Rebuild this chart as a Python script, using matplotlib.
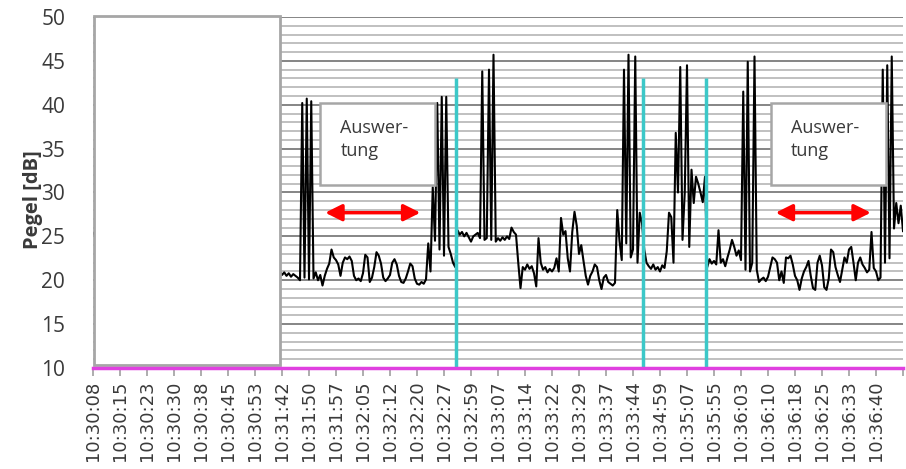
import numpy as np
import matplotlib.pyplot as plt
import matplotlib.ticker as mtick
from matplotlib.patches import Rectangle

# Pegel [dB], ein Wert pro Messpunkt (12 Punkte je Zeitmarke)
# Bereich unter dem weissen Kasten (nicht sichtbar)
pegel_verdeckt = [
    25.4, 25.1, 25.6, 25.3, 24.9, 25.2, 25.5, 25.0, 24.8, 25.3,
    25.1, 24.7, 25.0, 25.4, 25.2, 24.9, 25.3, 25.6, 25.1, 24.8,
    24.6, 25.0, 25.2, 24.9, 24.5, 24.8, 25.1, 24.7, 24.4, 24.9,
    23.8, 22.5, 21.9, 22.4, 21.6, 21.2, 21.8, 22.3, 21.5, 21.0,
    21.4, 22.0, 21.7, 21.1, 20.8, 21.3, 21.9, 21.2, 20.7, 21.0,
    21.5, 20.9, 20.6, 21.2, 21.8, 21.1, 20.5, 20.9, 21.4, 21.0,
    20.7, 21.3, 20.8, 20.4, 21.0, 21.6, 20.9, 20.6, 21.1, 20.8,
    20.5, 21.2, 20.7, 20.4, 20.9, 21.3, 20.8, 20.5, 21.0, 20.6,
    20.9, 20.4, 20.8,
]
pegel_1 = [
    21.0, 20.6, 20.9, 20.5, 20.8, 20.4, 20.7, 20.5, 20.3, 20.0,
    40.2, 20.3, 40.7, 20.1, 40.4, 20.2,
    20.9, 20.0, 20.6, 19.4, 20.5, 21.3, 21.9,
    23.5, 22.6, 22.3, 21.8, 20.5,
    22.0, 22.6, 22.4, 22.7, 22.2,
    20.5, 20.0, 20.2, 19.9, 20.8,
    22.9, 22.6, 19.8, 20.3,
    21.5, 23.2, 22.8, 21.9,
    20.3, 19.9, 20.2, 20.6,
    22.0, 22.4, 21.8,
    20.5, 19.8, 19.7, 20.2,
    21.0, 21.9, 21.6,
    20.2, 19.6, 19.5, 19.8, 19.6, 20.1,
    24.2, 21.0,
    30.6, 24.5, 40.2, 23.5, 40.9, 22.8, 40.9, 23.8, 23.0, 22.0, 21.5,
]
pegel_2 = [
    25.7, 25.2, 25.5, 25.0, 25.4, 24.9, 24.4, 25.0, 25.2, 25.4, 24.8,
    43.8, 24.6, 24.8, 44.0, 24.6, 45.7, 24.4,
    24.8, 24.5, 24.9, 24.6, 25.0, 24.7,
    26.0, 25.5, 25.2,
    22.0, 19.1,
    21.5, 21.2, 21.8, 21.3, 21.6,
    20.8, 19.3, 24.8, 22.0,
    21.2, 21.5, 20.9, 21.3, 21.0, 21.4,
    22.5, 21.0, 27.1, 25.2, 25.6, 22.5, 21.0, 25.5, 27.8, 26.2,
    23.0, 24.0, 22.2, 20.5, 19.5, 20.5, 21.0, 21.8, 21.5, 20.0,
    19.0, 20.3, 20.6, 19.8, 19.6, 19.4, 19.7, 28.0, 24.5, 22.3,
    44.0, 24.2, 45.7, 22.6, 23.5, 45.5, 22.0, 27.7, 26.5, 23.5,
]
pegel_3 = [
    22.0, 21.6, 21.3, 21.8, 21.2, 21.5, 21.0, 21.7, 21.4,
    23.3, 27.7, 27.2, 22.0, 36.8, 30.0, 44.3, 24.6, 30.0, 44.5,
    23.8, 32.6, 28.8, 31.8, 31.0, 30.0, 28.9, 31.8,
]
pegel_4 = [
    21.5, 22.4, 21.9, 22.2, 21.8,
    25.7, 22.0, 22.4, 21.6, 22.6, 23.5, 24.6, 23.8, 22.8, 23.4,
    22.3, 41.5, 21.2, 44.9, 21.0, 22.0, 45.5, 21.2, 19.8, 20.1,
    20.3, 19.9, 20.4, 21.5, 22.6, 22.4, 22.0, 20.0, 21.0, 19.7,
    22.6, 22.5, 22.8, 21.8, 20.5, 20.0, 18.9, 20.2, 21.0, 21.5,
    22.2, 20.5, 19.1, 18.9, 22.0, 22.8, 21.7, 19.2, 18.9, 20.2,
    23.5, 23.2, 21.5, 20.6, 19.8, 21.2, 22.6, 22.0, 23.5, 23.8,
    22.0, 20.0, 22.0, 22.6, 21.8, 21.4, 20.9, 21.2, 25.5, 21.4,
    21.0, 20.0, 20.3, 44.0, 22.0, 44.5, 22.5, 45.5, 25.9, 28.8,
    26.5, 28.5, 25.6,
]

zeiten = [
    "10:30:08", "10:30:15", "10:30:23", "10:30:30", "10:30:38", "10:30:45",
    "10:30:53", "10:31:42", "10:31:50", "10:31:57", "10:32:05", "10:32:12",
    "10:32:20", "10:32:27", "10:32:59", "10:33:07", "10:33:14", "10:33:22",
    "10:33:29", "10:33:37", "10:33:44", "10:34:59", "10:35:07", "10:35:55",
    "10:36:03", "10:36:10", "10:36:18", "10:36:25", "10:36:33", "10:36:40",
]
punkte_pro_marke = 12

# Markierungen (cyan) und Auswertebereiche
markierung_idx = [161.5, 244.5, 272.5]
markierung_hoehe = 43.1
auswertung_von = [103.2, 303.4]
auswertung_bis = [145.5, 345.7]

pegel = np.array(pegel_verdeckt + pegel_1 + pegel_2 + pegel_3 + pegel_4)
assert len(pegel) == 361
x = np.arange(len(pegel))

textfarbe = "#3a3a3a"

fig = plt.figure(figsize=(9.06, 4.69), dpi=100)
ax = fig.add_axes([93 / 906, 101 / 469, 810 / 906, 351 / 469])
ax.set_xlim(0, 360)
ax.set_ylim(10, 50)

ax.yaxis.set_major_locator(mtick.MultipleLocator(5))
ax.yaxis.set_minor_locator(mtick.MultipleLocator(1))
ax.grid(which="minor", axis="y", color="#c0c0c0", lw=1.4)
ax.grid(which="major", axis="y", color="#858585", lw=1.4)
ax.set_axisbelow(True)

for s in ["top", "right", "left"]:
    ax.spines[s].set_visible(False)
ax.spines["bottom"].set_color("#e040e0")
ax.spines["bottom"].set_linewidth(2.5)
ax.spines["bottom"].set_zorder(6)

ax.plot(x, pegel, color="black", lw=1.5, zorder=3)
ax.vlines(markierung_idx, 10, markierung_hoehe, color="#3cc8c8", lw=2.5, zorder=4)

# weisser Kasten links
ax.add_patch(Rectangle((0.3, 10.35), 82.6, 39.8, facecolor="white",
                       edgecolor="#a6a6a6", lw=2, zorder=5, clip_on=False))

# Auswertung-Kaesten und Pfeile
for von, bis in zip(auswertung_von, auswertung_bis):
    ax.add_patch(Rectangle((von - 2.2, 30.9), 51.2, 9.3, facecolor="white",
                           edgecolor="#a6a6a6", lw=1.8, zorder=5))
    ax.text(von + 6.8, 36.0, "Auswer-\ntung", fontsize=13, family="Open Sans",
            color=textfarbe, ha="left", va="center", linespacing=1.35, zorder=6)
    ax.annotate("", xy=(bis, 27.7), xytext=(von, 27.7), zorder=6,
                arrowprops=dict(arrowstyle="<|-|>", color="#ff0000", lw=2.5,
                                mutation_scale=25, shrinkA=0, shrinkB=0))

ticks = np.arange(0, len(pegel), punkte_pro_marke)
ax.set_xticks(ticks)
ax.set_xticklabels(zeiten + [""], rotation=90, fontsize=13, color=textfarbe,
                   family="DejaVu Sans")
ax.tick_params(axis="x", length=6, width=1.2, color="#a0a0a0", pad=3)
ax.tick_params(axis="y", which="both", length=0, pad=20, labelsize=15,
               labelcolor=textfarbe)
for lab in ax.get_yticklabels():
    lab.set_family("Open Sans")

ax.set_ylabel("Pegel [dB]", fontsize=14.5, fontweight="bold", family="Open Sans",
              color=textfarbe)
ax.yaxis.set_label_coords(-0.062, 0.48)

fig.savefig("out.png", dpi=100)
